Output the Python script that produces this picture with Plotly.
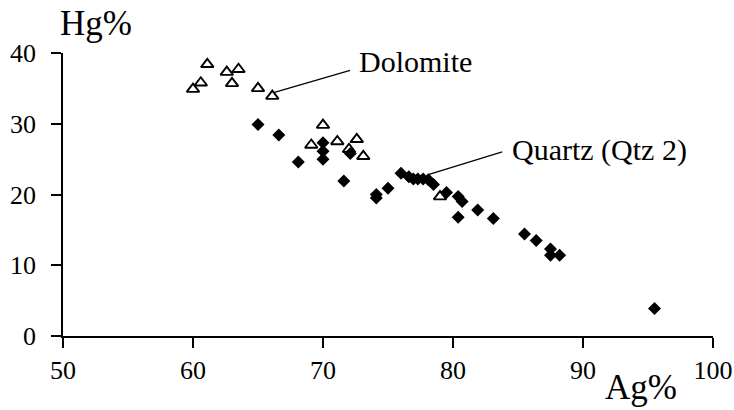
import plotly.graph_objects as go

# --- data ---
dolomite_ag = [60.0, 60.6, 61.1, 62.6, 63.5, 63.0, 65.0, 66.1,
               70.0, 69.1, 71.1, 72.6, 73.1, 72.0, 79.0]
dolomite_hg = [34.9, 35.8, 38.4, 37.3, 37.7, 35.7, 35.0, 33.9,
               29.8, 27.0, 27.5, 27.8, 25.4, 26.4, 19.7]

quartz_ag = [65.0, 66.6, 68.1, 70.0, 70.0, 70.0, 71.6, 72.1, 74.1, 74.1,
             75.0, 76.0, 76.6, 76.95, 77.3, 77.7, 78.1, 78.5, 79.5, 80.4,
             80.7, 80.4, 81.9, 83.1, 85.5, 86.4, 87.5, 87.5, 88.2, 95.5]
quartz_hg = [29.9, 28.4, 24.6, 27.3, 26.1, 25.0, 21.9, 25.8, 19.5, 20.0,
             20.9, 23.0, 22.5, 22.2, 22.2, 22.2, 22.1, 21.4, 20.3, 19.7,
             19.0, 16.8, 17.8, 16.6, 14.4, 13.5, 12.3, 11.4, 11.4, 3.9]

x_ticks = [50, 60, 70, 80, 90, 100]
y_ticks = [0, 10, 20, 30, 40]

FONT = "Liberation Serif"
tick_font = dict(family=FONT, size=26, color='black')

fig = go.Figure()

fig.add_trace(go.Scatter(
    x=quartz_ag, y=quartz_hg, mode='markers', name='Quartz (Qtz 2)',
    marker=dict(symbol='diamond', size=10, color='black'),
    cliponaxis=False,
))
fig.add_trace(go.Scatter(
    x=dolomite_ag, y=dolomite_hg, mode='markers', name='Dolomite',
    marker=dict(symbol='triangle-up-open', size=11, color='black',
                line=dict(width=1.9, color='black')),
    cliponaxis=False,
))

# leader lines (arrow-only annotations) pointing at one point of each group
fig.add_annotation(x=dolomite_ag[7] + 0.1, y=dolomite_hg[7] + 0.5,
                   ax=72.2, ay=37.6, axref='x', ayref='y',
                   text='', showarrow=True, arrowhead=0, arrowwidth=1.2,
                   arrowcolor='black')
fig.add_annotation(x=quartz_ag[16], y=quartz_hg[16] + 0.7,
                   ax=83.9, ay=26.1, axref='x', ayref='y',
                   text='', showarrow=True, arrowhead=0, arrowwidth=1.2,
                   arrowcolor='black')

labels = [
    ('Dolomite', 72.6, 38.75, 30),
    ('Quartz (Qtz 2)', 84.4, 26.3, 30),
]
for txt, lx, ly, size in labels:
    fig.add_annotation(x=lx, y=ly, text=txt, showarrow=False,
                       xanchor='left', yanchor='middle',
                       font=dict(family=FONT, size=size, color='black'))

# axis titles sit outside the plot area, so place them in paper coords
fig.add_annotation(x=-0.008, y=1.105, xref='paper', yref='paper', text='Hg%',
                   showarrow=False, xanchor='left', yanchor='middle',
                   font=dict(family=FONT, size=35, color='black'))
fig.add_annotation(x=0.83, y=-0.182, xref='paper', yref='paper', text='Ag%',
                   showarrow=False, xanchor='left', yanchor='middle',
                   font=dict(family=FONT, size=35, color='black'))

fig.update_layout(
    width=734, height=410,
    margin=dict(l=63, r=21, t=53, b=74),
    paper_bgcolor='white', plot_bgcolor='white',
    showlegend=False,
    font=dict(family=FONT, size=24, color='black'),
)
fig.update_xaxes(range=[50, 100], tickvals=x_ticks, showgrid=False,
                 zeroline=False, showline=True, linecolor='black',
                 linewidth=1.5, ticks='outside', ticklen=10, tickwidth=1.5,
                 tickcolor='black', tickfont=tick_font, automargin=False)
fig.update_yaxes(range=[0, 40], tickvals=y_ticks, showgrid=False,
                 zeroline=False, showline=True, linecolor='black',
                 linewidth=1.5, ticks='outside', ticklen=10, tickwidth=1.5,
                 tickcolor='black', ticklabelstandoff=10, tickfont=tick_font,
                 automargin=False)

# drop the page's default body margin so the figure sits at the corner
fig.write_html("out.html", config={'displayModeBar': False},
               post_script="document.body.style.margin='0';")
